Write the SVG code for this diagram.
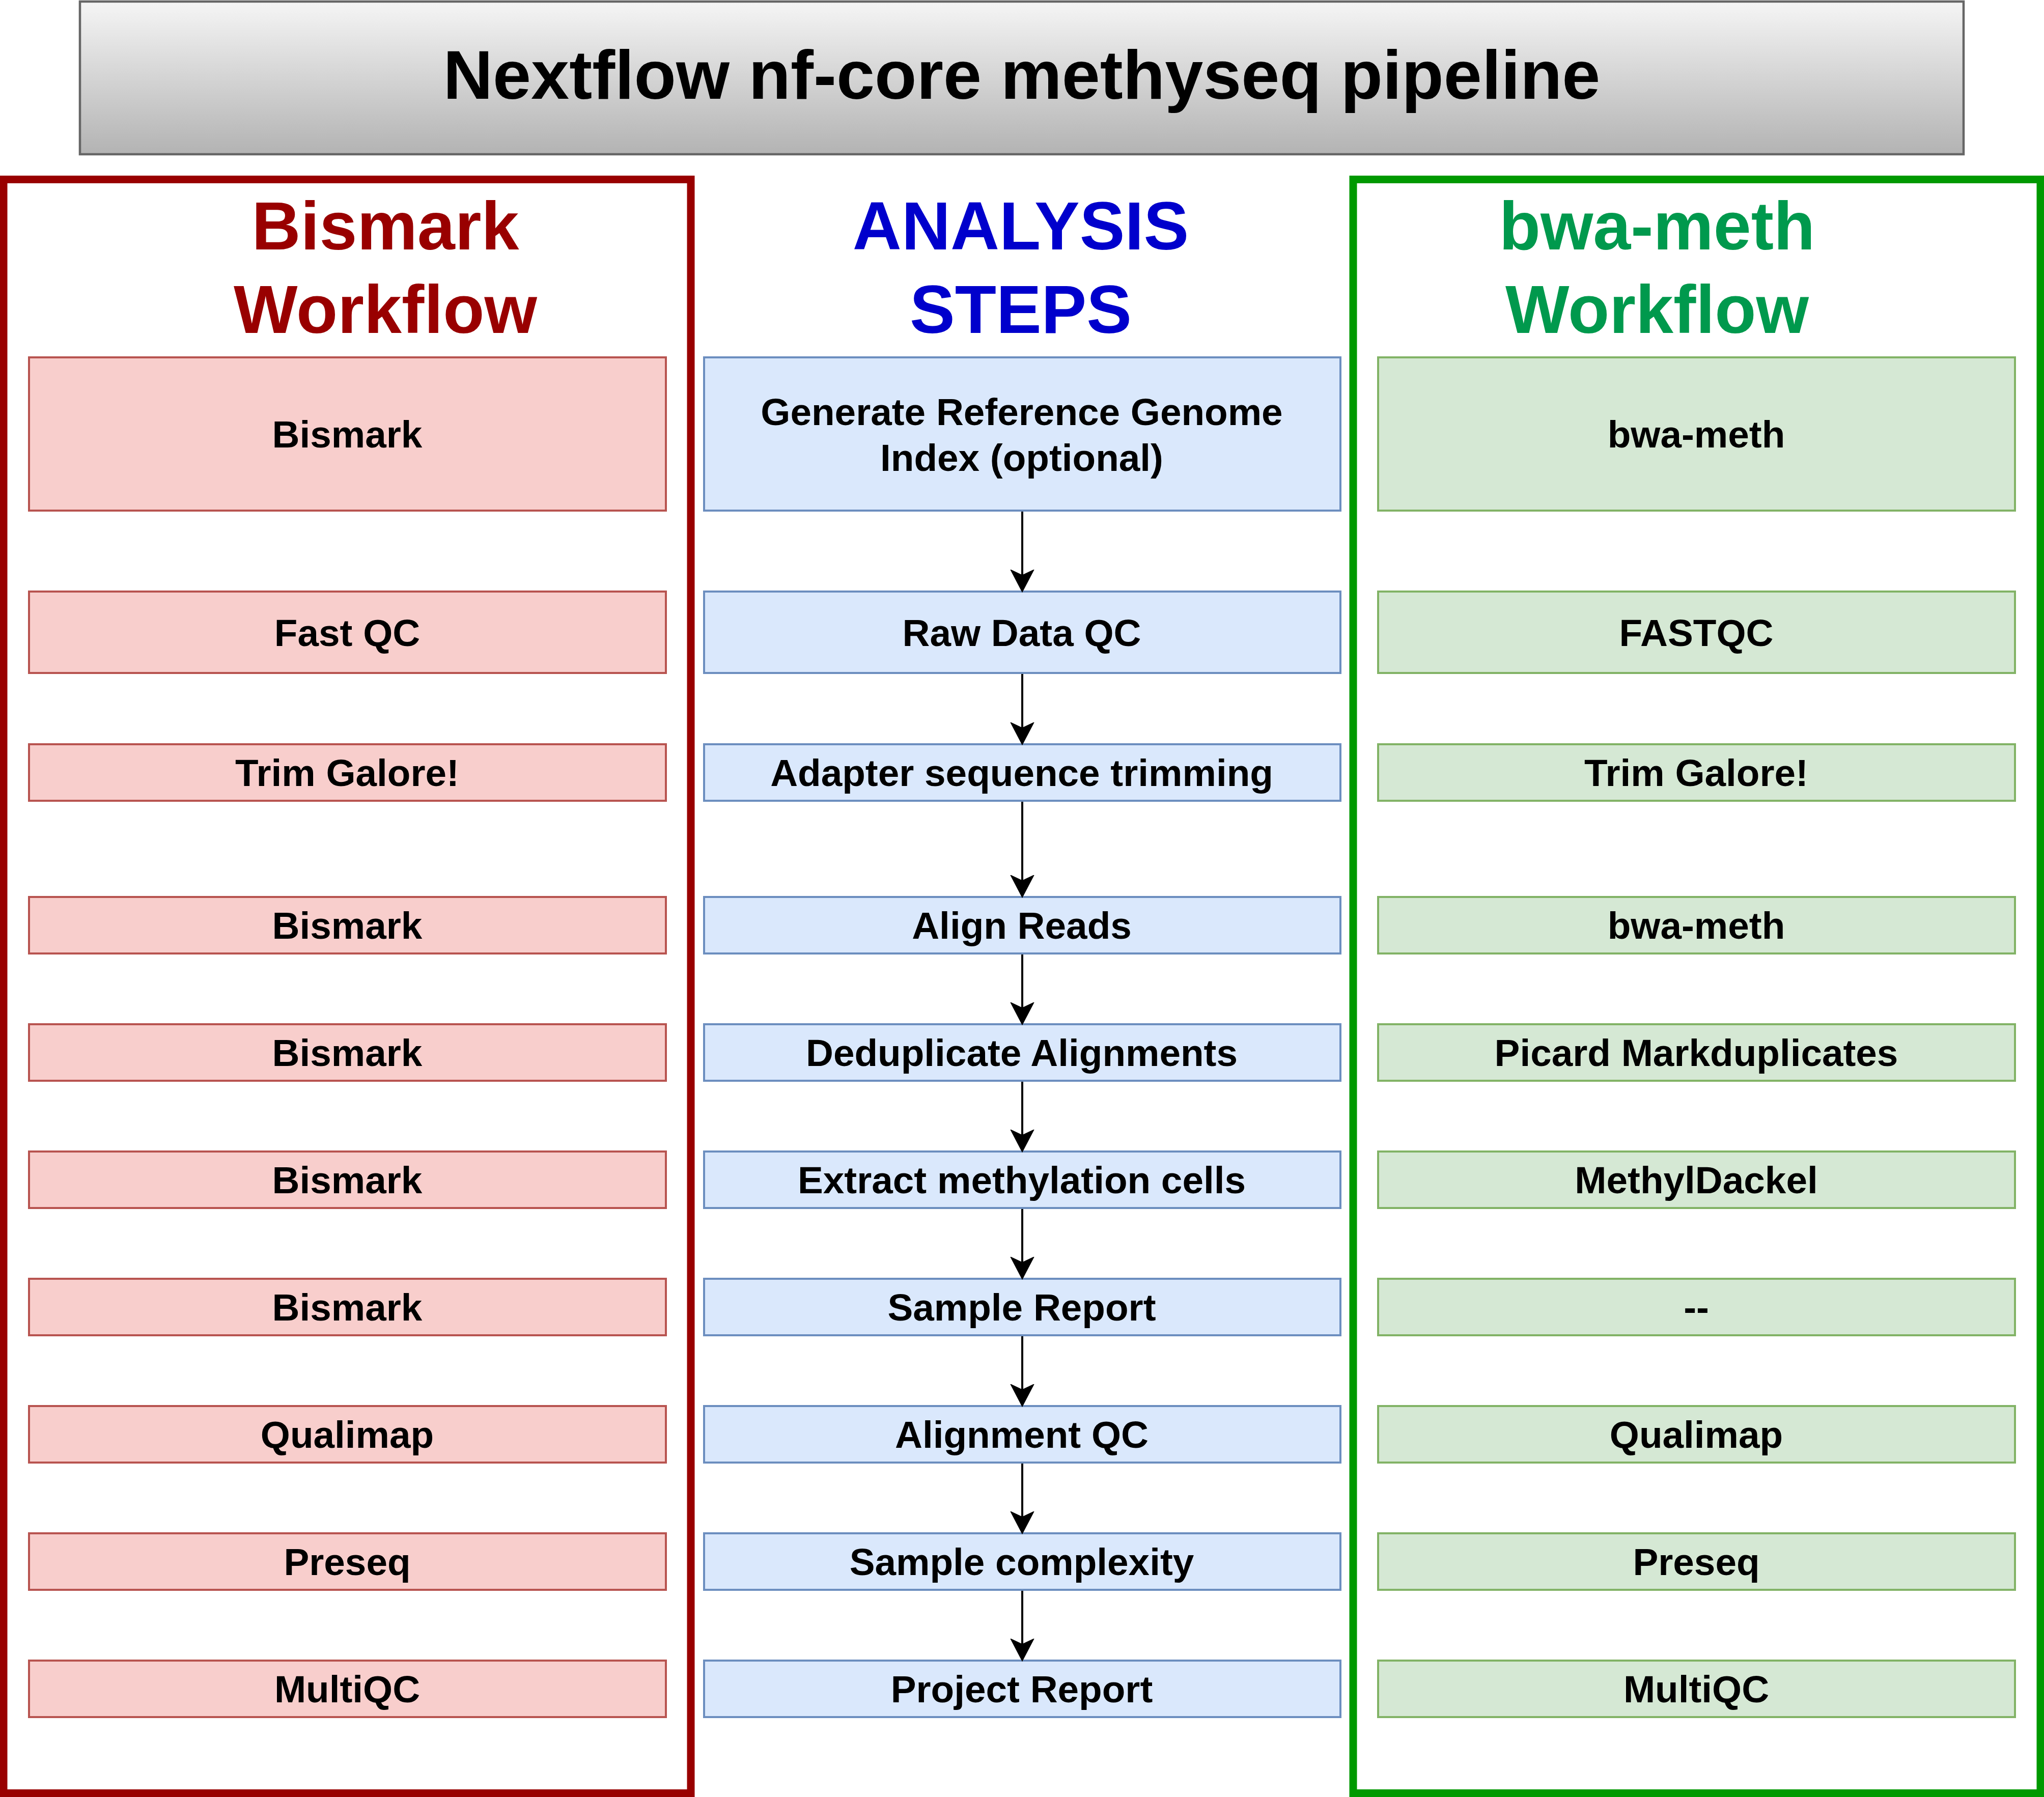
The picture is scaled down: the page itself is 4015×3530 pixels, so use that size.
<svg xmlns="http://www.w3.org/2000/svg" width="4015" height="3530" viewBox="0 0 4015 3530">
<defs>
<linearGradient id="titleGrad" x1="0" y1="0" x2="0" y2="1">
<stop offset="0" stop-color="#f5f5f5"/>
<stop offset="1" stop-color="#b3b3b3"/>
</linearGradient>
<marker id="arrow" viewBox="-12 -24 46 48" refX="0" refY="0" markerWidth="46" markerHeight="48" markerUnits="userSpaceOnUse" orient="auto">
<path d="M31.5,0 L-10.5,-22 L0,0 L-10.5,22 Z" fill="#000000" stroke="#000000" stroke-width="2" stroke-linejoin="miter"/>
</marker>
<style>
text{font-family:"Liberation Sans",Arial,Helvetica,sans-serif;font-weight:bold;text-anchor:middle;}
.lbl{font-size:74.7px;fill:#000000;}
.hdr{font-size:133px;}
.red{fill:#f8cecc;stroke:#b85450;stroke-width:4;}
.blue{fill:#dae8fc;stroke:#6c8ebf;stroke-width:4;}
.green{fill:#d5e8d4;stroke:#82b366;stroke-width:4;}
.edge{stroke:#000000;stroke-width:4;fill:none;marker-end:url(#arrow);}
</style>
</defs>
<rect width="4015" height="3530" fill="#ffffff"/>

<g id="title">
<rect x="157" y="3" width="3700" height="300" fill="url(#titleGrad)" stroke="#666666" stroke-width="4.5"/>
<text x="2007" y="194" style="font-size:135px;fill:#000000">Nextflow nf-core methyseq pipeline</text>
</g>

<g id="bismark-workflow">
<rect x="7" y="352.5" width="1350" height="3170" fill="none" stroke="#990000" stroke-width="15"/>
<text class="hdr" x="757" y="490" fill="#990000">Bismark</text>
<text class="hdr" x="757" y="654" fill="#990000">Workflow</text>
</g>

<g id="analysis-steps-header">
<text class="hdr" x="2005" y="490" fill="#0000CC">ANALYSIS</text>
<text class="hdr" x="2005" y="654" fill="#0000CC">STEPS</text>
</g>

<g id="bwameth-workflow">
<rect x="2658" y="352.5" width="1350" height="3170" fill="none" stroke="#009900" stroke-width="15"/>
<text class="hdr" x="3255" y="490" fill="#00994D">bwa-meth</text>
<text class="hdr" x="3255" y="654" fill="#00994D">Workflow</text>
</g>

<!-- Left column -->
<g id="L1"><rect class="red" x="57" y="702" width="1251" height="301"/><text class="lbl" x="682" y="879">Bismark</text></g>
<g id="L2"><rect class="red" x="57" y="1162" width="1251" height="160"/><text class="lbl" x="682" y="1269">Fast QC</text></g>
<g id="L3"><rect class="red" x="57" y="1462" width="1251" height="111"/><text class="lbl" x="682" y="1544">Trim Galore!</text></g>
<g id="L4"><rect class="red" x="57" y="1762" width="1251" height="111"/><text class="lbl" x="682" y="1844">Bismark</text></g>
<g id="L5"><rect class="red" x="57" y="2012" width="1251" height="111"/><text class="lbl" x="682" y="2094">Bismark</text></g>
<g id="L6"><rect class="red" x="57" y="2262" width="1251" height="111"/><text class="lbl" x="682" y="2344">Bismark</text></g>
<g id="L7"><rect class="red" x="57" y="2512" width="1251" height="111"/><text class="lbl" x="682" y="2594">Bismark</text></g>
<g id="L8"><rect class="red" x="57" y="2762" width="1251" height="111"/><text class="lbl" x="682" y="2844">Qualimap</text></g>
<g id="L9"><rect class="red" x="57" y="3012" width="1251" height="111"/><text class="lbl" x="682" y="3094">Preseq</text></g>
<g id="L10"><rect class="red" x="57" y="3262" width="1251" height="111"/><text class="lbl" x="682" y="3344">MultiQC</text></g>

<!-- Middle column -->
<g id="M1"><rect class="blue" x="1383" y="702" width="1250" height="301"/><text class="lbl" x="2007" y="835">Generate Reference Genome</text><text class="lbl" x="2007" y="924.5">Index (optional)</text></g>
<g id="M2"><rect class="blue" x="1383" y="1162" width="1250" height="160"/><text class="lbl" x="2007" y="1269">Raw Data QC</text></g>
<g id="M3"><rect class="blue" x="1383" y="1462" width="1250" height="111"/><text class="lbl" x="2007" y="1544">Adapter sequence trimming</text></g>
<g id="M4"><rect class="blue" x="1383" y="1762" width="1250" height="111"/><text class="lbl" x="2007" y="1844">Align Reads</text></g>
<g id="M5"><rect class="blue" x="1383" y="2012" width="1250" height="111"/><text class="lbl" x="2007" y="2094">Deduplicate Alignments</text></g>
<g id="M6"><rect class="blue" x="1383" y="2262" width="1250" height="111"/><text class="lbl" x="2007" y="2344">Extract methylation cells</text></g>
<g id="M7"><rect class="blue" x="1383" y="2512" width="1250" height="111"/><text class="lbl" x="2007" y="2594">Sample Report</text></g>
<g id="M8"><rect class="blue" x="1383" y="2762" width="1250" height="111"/><text class="lbl" x="2007" y="2844">Alignment QC</text></g>
<g id="M9"><rect class="blue" x="1383" y="3012" width="1250" height="111"/><text class="lbl" x="2007" y="3094">Sample complexity</text></g>
<g id="M10"><rect class="blue" x="1383" y="3262" width="1250" height="111"/><text class="lbl" x="2007" y="3344">Project Report</text></g>

<!-- Right column -->
<g id="R1"><rect class="green" x="2707" y="702" width="1251" height="301"/><text class="lbl" x="3332" y="879">bwa-meth</text></g>
<g id="R2"><rect class="green" x="2707" y="1162" width="1251" height="160"/><text class="lbl" x="3332" y="1269">FASTQC</text></g>
<g id="R3"><rect class="green" x="2707" y="1462" width="1251" height="111"/><text class="lbl" x="3332" y="1544">Trim Galore!</text></g>
<g id="R4"><rect class="green" x="2707" y="1762" width="1251" height="111"/><text class="lbl" x="3332" y="1844">bwa-meth</text></g>
<g id="R5"><rect class="green" x="2707" y="2012" width="1251" height="111"/><text class="lbl" x="3332" y="2094">Picard Markduplicates</text></g>
<g id="R6"><rect class="green" x="2707" y="2262" width="1251" height="111"/><text class="lbl" x="3332" y="2344">MethylDackel</text></g>
<g id="R7"><rect class="green" x="2707" y="2512" width="1251" height="111"/><text class="lbl" x="3332" y="2594">--</text></g>
<g id="R8"><rect class="green" x="2707" y="2762" width="1251" height="111"/><text class="lbl" x="3332" y="2844">Qualimap</text></g>
<g id="R9"><rect class="green" x="2707" y="3012" width="1251" height="111"/><text class="lbl" x="3332" y="3094">Preseq</text></g>
<g id="R10"><rect class="green" x="2707" y="3262" width="1251" height="111"/><text class="lbl" x="3332" y="3344">MultiQC</text></g>

<g id="connectors">
<line class="edge" x1="2008" y1="1005" x2="2008" y2="1130.5"/>
<line class="edge" x1="2008" y1="1324" x2="2008" y2="1430.5"/>
<line class="edge" x1="2008" y1="1575" x2="2008" y2="1730.5"/>
<line class="edge" x1="2008" y1="1875" x2="2008" y2="1980.5"/>
<line class="edge" x1="2008" y1="2125" x2="2008" y2="2230.5"/>
<line class="edge" x1="2008" y1="2375" x2="2008" y2="2480.5"/>
<line class="edge" x1="2008" y1="2625" x2="2008" y2="2730.5"/>
<line class="edge" x1="2008" y1="2875" x2="2008" y2="2980.5"/>
<line class="edge" x1="2008" y1="3125" x2="2008" y2="3230.5"/>
</g>
</svg>
